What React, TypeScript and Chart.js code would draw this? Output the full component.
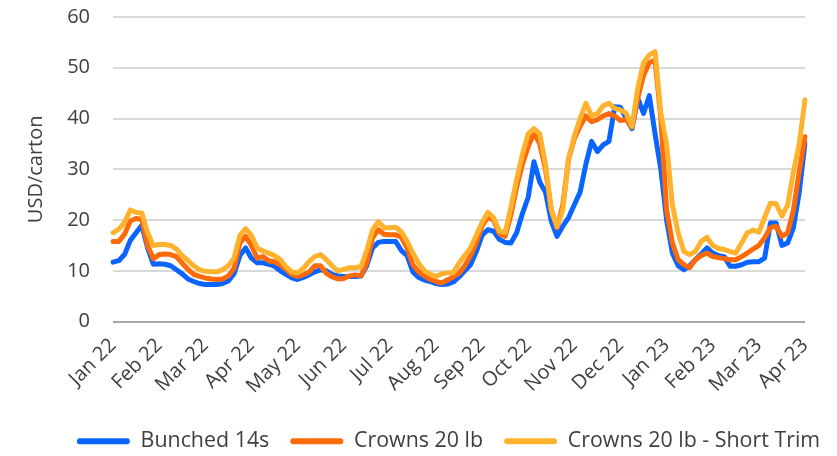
import React, { useEffect, useRef } from 'react';
import { Chart, registerables } from 'chart.js';

Chart.register(...registerables);

// Month tick labels (one every 8 observations)
const monthLabels = [
  'Jan 22', 'Feb 22', 'Mar 22', 'Apr 22', 'May 22', 'Jun 22', 'Jul 22', 'Aug 22',
  'Sep 22', 'Oct 22', 'Nov 22', 'Dec 22', 'Jan 23', 'Feb 23', 'Mar 23', 'Apr 23',
];
const POINTS_PER_MONTH = 8;

// USD/carton
const bunched14s = [
  11.7, 12.0, 13.2, 16.0, 17.5, 19.0, 14.5, 11.3, 11.4, 11.3,
  11.0, 10.2, 9.4, 8.4, 7.9, 7.5, 7.3, 7.3, 7.3, 7.5,
  8.0, 9.5, 13.0, 14.5, 12.5, 11.6, 11.6, 11.3, 10.9, 10.0,
  9.3, 8.6, 8.3, 8.7, 9.2, 9.8, 10.2, 10.0, 9.3, 9.0,
  8.9, 8.9, 8.9, 9.0, 11.0, 14.5, 15.6, 15.8, 15.8, 15.8,
  14.0, 13.0, 9.8, 8.7, 8.2, 7.9, 7.5, 7.3, 7.4, 7.8,
  8.8, 10.0, 11.2, 13.8, 17.0, 18.1, 17.8, 16.2, 15.6, 15.5,
  17.5, 21.3, 24.5, 31.5, 27.5, 25.5, 19.8, 16.8, 18.8, 20.5,
  23.0, 25.5, 31.0, 35.5, 33.5, 34.8, 35.5, 42.3, 42.2, 40.0,
  38.0, 44.0, 41.0, 44.5, 37.0, 30.0, 20.0, 13.5, 11.0, 10.2,
  11.0, 12.2, 13.3, 14.5, 13.5, 13.0, 12.8, 10.9, 10.9, 11.2,
  11.7, 11.8, 11.8, 12.5, 19.4, 19.4, 15.0, 15.5, 18.5, 25.5,
  35.2,
];

const crowns20lb = [
  15.8, 15.8, 17.2, 19.8, 20.3, 20.1, 15.0, 12.4, 13.2, 13.3,
  13.2, 12.8, 11.5, 10.3, 9.3, 8.9, 8.6, 8.4, 8.3, 8.4,
  9.0, 10.5, 15.5, 16.8, 15.0, 12.5, 12.8, 12.0, 11.8, 11.2,
  10.3, 9.3, 8.9, 9.2, 9.8, 11.0, 11.0, 9.5, 8.8, 8.4,
  8.5, 9.0, 9.2, 9.0, 11.5, 16.5, 18.1, 17.2, 17.1, 17.1,
  16.6, 14.5, 11.2, 9.8, 9.0, 8.3, 7.9, 7.6, 8.2, 8.8,
  9.5, 11.0, 13.0, 15.5, 18.8, 20.6, 20.0, 17.3, 16.8, 21.0,
  26.5, 31.0, 34.5, 37.2, 35.0, 30.0, 22.0, 18.5, 23.0, 32.0,
  36.0, 38.5, 40.5, 39.4, 39.8, 40.5, 41.0, 40.5, 39.6, 39.8,
  38.3, 44.0, 48.5, 51.0, 51.5, 40.0, 22.0, 15.5, 12.2, 11.2,
  10.6, 12.2, 13.0, 13.5, 12.8, 12.6, 12.4, 12.2, 12.2, 12.8,
  13.5, 14.3, 15.0, 16.5, 18.5, 18.8, 16.8, 17.5, 22.0, 29.5,
  36.4,
];

const crowns20lbShortTrim = [
  17.5, 18.2, 19.5, 22.0, 21.5, 21.4, 17.5, 15.0, 15.2, 15.2,
  15.0, 14.3, 13.0, 12.0, 11.0, 10.2, 9.9, 9.8, 9.8, 10.2,
  11.0, 12.5, 17.0, 18.3, 17.0, 14.5, 13.9, 13.5, 13.0, 12.2,
  10.8, 9.8, 9.6, 10.5, 11.8, 12.8, 13.2, 12.2, 11.0, 10.0,
  10.3, 10.6, 10.6, 10.8, 14.0, 18.0, 19.7, 18.5, 18.5, 18.6,
  17.7, 15.8, 13.5, 11.5, 10.0, 9.3, 8.9, 9.4, 9.6, 9.6,
  11.5, 13.0, 14.5, 17.0, 19.5, 21.5, 20.5, 17.8, 17.5, 22.5,
  28.0, 33.0, 37.0, 38.0, 37.0, 31.0, 22.0, 18.7, 22.0, 32.0,
  36.5, 40.0, 43.0, 40.5, 41.0, 42.5, 43.0, 42.0, 41.7, 41.0,
  38.5, 46.0, 51.0, 52.5, 53.2, 41.0, 35.0, 23.0, 17.5, 13.8,
  13.2, 13.8, 15.8, 16.6, 15.0, 14.4, 14.2, 13.8, 13.5, 15.5,
  17.5, 18.0, 17.6, 20.5, 23.3, 23.2, 20.8, 23.0, 29.5, 35.0,
  43.7,
];

const seriesNames = ['Bunched 14s', 'Crowns 20 lb', 'Crowns 20 lb - Short Trim'];
const seriesColors = ['#0A64FF', '#FF6A08', '#FFB22E'];

// shifts the bottom legend horizontally after layout
const legendShift = {
  id: 'legendShift',
  afterLayout(chart: any) {
    const lg = chart.legend;
    if (lg) {
      lg.left += 46;
      lg.right += 46;
    }
  },
};

export default function App() {
  const canvasRef = useRef<HTMLCanvasElement>(null);

  useEffect(() => {
    document.body.style.margin = '0';
    Chart.defaults.font.family = "'Open Sans', sans-serif";
    const labels = bunched14s.map((_, i) =>
      i % POINTS_PER_MONTH === 0 ? monthLabels[i / POINTS_PER_MONTH] : ''
    );
    const values = [bunched14s, crowns20lb, crowns20lbShortTrim];
    const chart = new Chart(canvasRef.current as HTMLCanvasElement, {
      type: 'line',
      data: {
        labels,
        datasets: values.map((d, k) => ({
          label: seriesNames[k],
          data: d,
          borderColor: seriesColors[k],
          backgroundColor: seriesColors[k],
          borderWidth: 5,
          pointRadius: 0,
          tension: 0,
          borderJoinStyle: 'round' as const,
          borderCapStyle: 'round' as const,
          order: 3 - k,
        })),
      },
      plugins: [legendShift],
      options: {
        animation: false,
        responsive: true,
        maintainAspectRatio: false,
        layout: { padding: { left: 0, right: 32, top: 17, bottom: -6 } },
        plugins: {
          tooltip: { enabled: false },
          legend: {
            position: 'bottom',
            labels: {
              font: { size: 21.4 },
              color: '#404040',
              boxWidth: 53,
              boxHeight: 6,
              padding: 21,
              useBorderRadius: true,
              borderRadius: 3,
              generateLabels: (c: any) =>
                c.data.datasets.map((ds: any, i: number) => ({
                  text: ds.label,
                  fillStyle: ds.borderColor,
                  strokeStyle: ds.borderColor,
                  lineWidth: 0,
                  hidden: false,
                  datasetIndex: i,
                  borderRadius: 3,
                  fontColor: '#404040',
                })),
            },
          },
        },
        scales: {
          x: {
            type: 'category',
            grid: { display: false },
            border: { display: false },
            ticks: {
              autoSkip: false,
              maxRotation: 45,
              minRotation: 45,
              padding: 4,
              color: '#404040',
              font: { size: 20 },
              callback: (_v: any, i: number) => labels[i],
            },
            afterFit: (s: any) => {
              s.height = 88;
            },
          },
          y: {
            min: 0,
            max: 60,
            border: { display: false },
            grid: {
              drawTicks: true,
              tickLength: 20,
              tickColor: 'transparent',
              lineWidth: 2,
              color: (ctx: any) => (ctx.tick && ctx.tick.value === 0 ? '#a6a6a6' : '#d9d9d9'),
            },
            ticks: {
              stepSize: 10,
              padding: 3,
              color: '#404040',
              font: { size: 20 },
            },
            title: {
              display: true,
              text: 'USD/carton',
              color: '#404040',
              font: { size: 20 },
              padding: { top: 24, bottom: 4 },
            },
            afterFit: (s: any) => {
              s.width = 113;
            },
          },
        },
      },
    });
    return () => chart.destroy();
  }, []);

  return (
    <div style={{ position: 'relative', width: 837, height: 456 }}>
      <canvas ref={canvasRef} />
    </div>
  );
}
